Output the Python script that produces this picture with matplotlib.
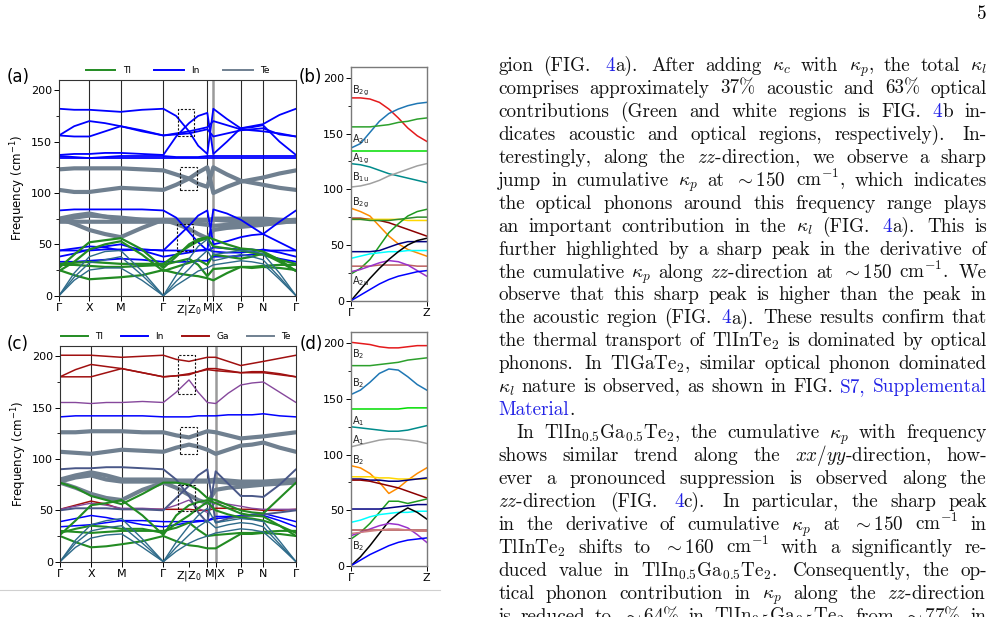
import re
import numpy as np
import matplotlib
matplotlib.use('Agg')
import matplotlib.pyplot as plt
from matplotlib.font_manager import FontProperties
from matplotlib.lines import Line2D
from matplotlib.patches import Rectangle
from matplotlib.ticker import MultipleLocator
from matplotlib.transforms import IdentityTransform

W, H = 995, 617

# ---- k path (panel a and c) ----
PATH_LABELS = ['Γ', 'X', 'M', 'Γ', 'Z|Z$_0$', '', 'M|X', 'P', 'N', 'Γ']
KA = [0, 91, 185, 313, 390, 445, 463, 545, 612, 711]
KC = [0, 93, 185, 310, 387, 442, 467, 542, 610, 708]

# ---- panel (a) TlInTe2 bands, values at Γ .. X .. M .. Γ .. Z .. M | X .. P .. N .. Γ ----
a_in = [
    [182, 181, 181, 180, 179, 181, 182, 175, 160, 146, 138, 182, 172, 163, 165, 167, 176, 182],
    [156, 165, 170, 168, 165, 160, 156, 158, 160, 162, 164, 170, 166, 162, 161, 160, 158, 155],
    [156, 155, 155, 160, 165, 161, 156, 157, 158, 160, 162, 155, 158, 161, 162, 163, 157, 155],
    [137, 138, 138, 139, 139, 138, 137, 155, 168, 175, 178, 138, 150, 163, 164, 166, 150, 137],
    [136, 135, 134, 135, 136, 136, 136, 135, 135, 135, 136, 136, 136, 136, 136, 136, 136, 136],
    [134, 134, 134, 134, 134, 134, 134, 134, 134, 134, 134, 134, 134, 134, 134, 134, 134, 134],
    [83, 84, 84, 84, 84, 84, 83, 76, 62, 52, 44, 84, 80, 74, 67, 60, 72, 83],
    [44, 44, 44, 45, 45, 45, 44, 56, 68, 78, 83, 50, 53, 57, 59, 60, 52, 44],
    [44, 46, 48, 47, 44, 45, 44, 44, 44, 44, 44, 47, 46, 45, 45, 44, 44, 44],
    [38, 41, 45, 48, 50, 44, 38, 40, 42, 44, 45, 43, 42, 42, 43, 45, 42, 38],
    [33, 33, 34, 35, 36, 35, 33, 33, 33, 34, 34, 38, 38, 39, 40, 40, 36, 33],
]
a_te = [
    [123, 124, 124, 124, 124, 123, 122, 118, 114, 109, 106, 125, 118, 112, 110, 108, 105, 103],
    [103, 101, 101, 103, 105, 104, 103, 108, 114, 120, 125, 100, 106, 111, 113, 115, 119, 122],
    [75, 70, 64, 60, 57, 66, 74, 70, 65, 60, 56, 64, 66, 67, 68, 69, 71, 73],
    [75, 78, 80, 77, 74, 74, 74, 74, 74, 74, 74, 74, 73, 72, 72, 72, 73, 74],
    [73, 76, 78, 77, 76, 74, 73, 73, 73, 73, 73, 75, 75, 75, 75, 75, 74, 73],
    [72, 72, 72, 72, 72, 72, 72, 72, 71, 70, 69, 68, 69, 70, 71, 72, 72, 72],
]
a_tl = [
    [25, 20, 16, 17, 18, 20, 25, 22, 20, 19, 17, 15, 22, 28, 27, 28, 27, 25],
    [30, 30, 29, 28, 28, 29, 30, 33, 36, 30, 19, 26, 27, 28, 28, 29, 30, 30],
    [31, 32, 33, 32, 31, 31, 31, 40, 48, 53, 56, 48, 46, 44, 42, 40, 35, 31],
    [27, 40, 52, 54, 56, 45, 27, 38, 50, 55, 57, 55, 50, 46, 45, 43, 35, 24],
    [24, 33, 45, 50, 53, 40, 24, 28, 32, 35, 30, 40, 38, 36, 38, 41, 33, 24],
]
a_mix = [
    [0, 15, 25, 27, 27, 15, 0, 10, 18, 24, 27, 30, 32, 34, 33, 31, 16, 0],
    [0, 18, 32, 35, 38, 20, 0, 14, 26, 36, 44, 34, 37, 40, 38, 35, 18, 0],
    [0, 22, 38, 43, 44, 24, 0, 20, 36, 48, 55, 40, 42, 44, 43, 41, 22, 0],
]

# ---- panel (c) TlIn0.5Ga0.5Te2 bands ----
c_ga = [
    [201, 201, 201, 200, 199, 200, 201, 197, 195, 197, 199, 199, 195, 191, 193, 195, 198, 201],
    [180, 187, 192, 190, 188, 184, 180, 181, 182, 185, 188, 188, 186, 184, 185, 185, 183, 180],
    [180, 180, 180, 184, 188, 184, 180, 181, 183, 185, 187, 186, 185, 184, 184, 184, 182, 180],
    [51, 55, 59, 56, 51, 51, 51, 51, 51, 50, 50, 52, 52, 51, 51, 50, 50, 51],
]
c_purple = [
    [155, 155, 154, 155, 155, 156, 155, 165, 177, 165, 155, 154, 164, 172, 174, 175, 165, 155],
    [51, 54, 57, 55, 52, 52, 51, 55, 60, 52, 48, 58, 56, 54, 52, 51, 51, 51],
]
c_in = [
    [141, 142, 142, 142, 142, 142, 141, 141, 141, 142, 142, 142, 143, 143, 143, 144, 142, 141],
    [39, 42, 45, 43, 40, 40, 39, 39, 39, 40, 40, 42, 43, 45, 46, 47, 43, 39],
    [34, 35, 36, 38, 40, 36, 34, 36, 38, 39, 40, 44, 44, 44, 45, 45, 40, 34],
]
c_navy = [
    [90, 91, 91, 92, 92, 91, 90, 80, 64, 48, 38, 88, 76, 64, 64, 63, 75, 90],
    [50, 52, 52, 52, 51, 51, 50, 62, 74, 84, 90, 38, 42, 44, 45, 46, 48, 50],
]
c_te = [
    [126, 126, 127, 127, 127, 126, 126, 123, 121, 124, 127, 126, 123, 120, 121, 122, 124, 126],
    [107, 106, 105, 107, 109, 108, 107, 111, 114, 112, 109, 105, 109, 113, 114, 116, 111, 107],
    [80, 84, 87, 84, 80, 80, 80, 79, 79, 79, 79, 80, 79, 78, 78, 78, 79, 80],
    [78, 82, 84, 80, 78, 78, 78, 78, 78, 78, 78, 78, 77, 76, 76, 76, 77, 78],
    [77, 72, 66, 62, 60, 70, 77, 72, 65, 60, 57, 70, 72, 73, 74, 75, 76, 77],
]
c_tl = [
    [25, 19, 14, 15, 17, 20, 25, 20, 16, 15, 13, 13, 20, 27, 27, 28, 27, 25],
    [30, 29, 28, 29, 30, 30, 30, 33, 38, 31, 25, 26, 27, 28, 28, 29, 30, 30],
    [28, 32, 35, 34, 32, 32, 28, 37, 45, 52, 58, 50, 46, 43, 42, 40, 35, 28],
    [26, 40, 55, 57, 60, 45, 26, 45, 55, 58, 60, 57, 52, 47, 45, 44, 35, 25],
    [77, 72, 64, 60, 56, 66, 77, 77, 75, 70, 62, 60, 55, 50, 48, 47, 62, 77],
]
c_mix = [
    [0, 14, 23, 26, 27, 14, 0, 10, 18, 22, 25, 28, 30, 32, 31, 29, 15, 0],
    [0, 18, 30, 33, 35, 18, 0, 14, 26, 34, 40, 33, 36, 38, 37, 34, 17, 0],
    [0, 21, 36, 40, 42, 22, 0, 19, 35, 45, 52, 38, 40, 42, 41, 39, 20, 0],
]

# ---- panel (b) Γ-Z, 9 points each ----
b_bands = [
    ('#e41a1c', [182, 182, 181, 178, 172, 164, 155, 148, 143]),
    ('#1f77b4', [137, 141, 151, 161, 168, 172, 175, 177, 178]),
    ('#2ca02c', [156, 156, 156, 157, 158, 160, 161, 163, 164]),
    ('#00dd00', [134, 134, 134, 134, 134, 134, 134, 134, 134]),
    ('#008b8b', [123, 122, 120, 117, 114, 112, 110, 108, 106]),
    ('#a0a0a0', [102, 103, 105, 108, 112, 115, 118, 121, 123]),
    ('#ff8c00', [83, 80, 76, 67, 58, 51, 46, 43, 40]),
    ('#8b0000', [74, 74, 73, 72, 70, 67, 64, 61, 58]),
    ('#ffd700', [73, 73, 73, 73, 73, 73, 72, 72, 72]),
    ('#2e8b2e', [73, 73, 72, 72, 72, 73, 74, 75, 75]),
    ('#1f9a1f', [24, 29, 37, 49, 61, 69, 76, 80, 82]),
    ('#000080', [44, 44, 44, 45, 48, 51, 53, 53, 53]),
    ('#00ffff', [38, 40, 42, 43, 44, 44, 45, 45, 45]),
    ('#bc5f5f', [31, 31, 31, 32, 32, 32, 32, 31, 31]),
    ('#9932cc', [26, 28, 31, 34, 36, 35, 32, 27, 22]),
    ('#000000', [0, 10, 20, 29, 37, 44, 50, 54, 56]),
    ('#0000ff', [0, 5, 10, 15, 19, 22, 24, 26, 27]),
]
b_modes = [r'B$_{\mathrm{2g}}$', r'A$_{\mathrm{2u}}$', r'A$_{\mathrm{1g}}$',
           r'B$_{\mathrm{1u}}$', r'B$_{\mathrm{2g}}$', r'A$_{\mathrm{2u}}$']
b_mode_y = [188, 145, 127, 111, 88, 18]

# ---- panel (d) Γ-Z ----
d_bands = [
    ('#e41a1c', [201, 200, 199, 197, 196, 196, 197, 198, 198]),
    ('#2ca02c', [180, 180, 180, 181, 182, 183, 185, 186, 187]),
    ('#1f77b4', [154, 158, 165, 173, 177, 176, 170, 163, 158]),
    ('#00dd00', [141, 141, 141, 141, 141, 141, 142, 142, 142]),
    ('#008b8b', [125, 124, 123, 122, 121, 121, 122, 124, 126]),
    ('#a0a0a0', [107, 109, 111, 113, 114, 114, 113, 112, 110]),
    ('#ff8c00', [90, 88, 83, 75, 65, 70, 77, 83, 88]),
    ('#ffd700', [80, 80, 80, 79, 79, 78, 78, 78, 78]),
    ('#000080', [78, 78, 77, 77, 76, 76, 77, 78, 79]),
    ('#8b0000', [77, 77, 76, 74, 72, 70, 67, 64, 61]),
    ('#1f9a1f', [24, 30, 38, 48, 58, 58, 56, 58, 60]),
    ('#000080', [51, 51, 51, 51, 52, 53, 54, 55, 55]),
    ('#00ffff', [39, 41, 44, 46, 47, 48, 48, 49, 49]),
    ('#000000', [0, 8, 18, 29, 40, 47, 52, 48, 42]),
    ('#9932cc', [27, 30, 33, 36, 38, 37, 34, 28, 21]),
    ('#b05050', [32, 32, 32, 32, 32, 32, 32, 32, 32]),
    ('#d08080', [29, 30, 31, 32, 33, 33, 32, 31, 31]),
    ('#0000ff', [0, 5, 10, 14, 18, 21, 23, 24, 25]),
]
d_modes = ['B$_2$', 'B$_2$', 'A$_1$', 'A$_1$', 'B$_2$', 'B$_2$']
d_mode_y = [190, 164, 130, 113, 95, 18]

# ---- body text (right column) ----
TEXT_LINES = [
    r"gion (FIG. [4]a).  After adding $\kappa_c$ with $\kappa_p$, the total $\kappa_l$",
    r"comprises approximately 37% acoustic and 63% optical",
    r"contributions (Green and white regions is FIG. [4]b in-",
    r"dicates acoustic and optical regions, respectively).  In-",
    r"terestingly, along the $zz$-direction, we observe a sharp",
    r"jump in cumulative $\kappa_p$ at ${\sim}150$ cm$^{-1}$, which indicates",
    r"the optical phonons around this frequency range plays",
    r"an important contribution in the $\kappa_l$ (FIG. [4]a).  This is",
    r"further highlighted by a sharp peak in the derivative of",
    r"the cumulative $\kappa_p$ along $zz$-direction at ${\sim}150$ cm$^{-1}$. We",
    r"observe that this sharp peak is higher than the peak in",
    r"the acoustic region (FIG. [4]a).  These results confirm that",
    r"the thermal transport of TlInTe$_2$ is dominated by optical",
    r"phonons. In TlGaTe$_2$, similar optical phonon dominated",
    r"$\kappa_l$ nature is observed, as shown in FIG. [S7,] [Supplemental]",
    r"[Material].",
    r"In TlIn$_{0.5}$Ga$_{0.5}$Te$_2$, the cumulative $\kappa_p$ with frequency",
    r"shows similar trend along the $xx/yy$-direction, how-",
    r"ever a pronounced suppression is observed along the",
    r"$zz$-direction (FIG. [4]c).  In particular, the sharp peak",
    r"in the derivative of cumulative $\kappa_p$ at ${\sim}150$ cm$^{-1}$ in",
    r"TlInTe$_2$ shifts to ${\sim}160$ cm$^{-1}$ with a significantly re-",
    r"duced value in TlIn$_{0.5}$Ga$_{0.5}$Te$_2$.  Consequently, the op-",
    r"tical phonon contribution in $\kappa_p$ along the $zz$-direction",
    r"is reduced to ${\sim}64$% in TlIn$_{0.5}$Ga$_{0.5}$Te$_2$ from ${\sim}77$% in",
]
PARA_END = {15}
PARA_START = {16}

TL, IN, TE, GA = '#228B22', '#0000FF', '#708090', '#A01010'
MIX, PURPLE, NAVY = '#2E6B8A', '#86489C', '#4A5888'
LINK, INK = '#2222e6', '#111111'


def box(l, t, r, b):
    return [l / W, 1 - b / H, (r - l) / W, (b - t) / H]


def sample_k(k):
    m = lambda a, b: (a + b) / 2
    return [k[0], m(k[0], k[1]), k[1], m(k[1], k[2]), k[2], m(k[2], k[3]), k[3],
            m(k[3], k[4]), k[4], m(k[4], k[5]), k[5], k[6], m(k[6], k[7]), k[7],
            m(k[7], k[8]), k[8], m(k[8], k[9]), k[9]]


def style_freq_axis(ax):
    ax.set_ylim(0, 210)
    ax.set_yticks([0, 50, 100, 150, 200])
    ax.yaxis.set_minor_locator(MultipleLocator(25))
    ax.tick_params(axis='both', which='major', direction='out', length=3.5, width=0.7,
                   labelsize=8, pad=1.5)
    ax.tick_params(axis='y', which='minor', direction='out', length=2.2, width=0.6)


def band_panel(ax, kt, groups, boxes):
    ks = sample_k(kt)
    for bands, col, lw in groups:
        for b in bands:
            ax.plot(ks, b, color=col, lw=lw, solid_capstyle='round', zorder=2)
    for i in (1, 2, 3, 5, 7, 8):
        ax.axvline(kt[i], color='#2b2b2b', lw=0.8, zorder=1)
    ax.axvline(kt[6], color='#9a9a9a', lw=1.8, zorder=1)
    for x0, y0, w, h in boxes:
        ax.add_patch(Rectangle((x0, y0), w, h, fill=False, ls=(0, (2, 1.5)),
                               lw=0.8, ec='#111111', zorder=5))
    ax.set_xlim(kt[0], kt[-1])
    ax.set_xticks(kt)
    ax.set_xticklabels(PATH_LABELS)
    style_freq_axis(ax)
    ax.set_ylabel('Frequency (cm$^{-1}$)', fontsize=8.5, labelpad=2)
    for s in ax.spines.values():
        s.set_color('#333333')
        s.set_linewidth(0.8)


def gz_panel(ax, bands, modes, mode_y):
    x = np.linspace(0, 1, len(bands[0][1]))
    for col, vals in bands:
        ax.plot(x, vals, color=col, lw=1.1)
    for lab, y in zip(modes, mode_y):
        ax.text(0.015, y, lab, fontsize=7, ha='left', va='center', color='#222222')
    ax.set_xlim(0, 1)
    ax.set_xticks([0, 1])
    ax.set_xticklabels(['Γ', 'Z'])
    style_freq_axis(ax)
    for s in ax.spines.values():
        s.set_color('#7a7a7a')
        s.set_linewidth(1.0)


fig = plt.figure(figsize=(W / 100, H / 100), dpi=100)
fig.patch.set_facecolor('white')

# panel (a)
ax_a = fig.add_axes(box(59, 80, 296, 295.7))
band_panel(ax_a, KA,
           [(a_te, TE, 3.0), (a_in, IN, 1.3), (a_tl, TL, 1.6), (a_mix, MIX, 1.0)],
           [(356, 155, 50, 27), (363, 103, 50, 22), (353, 44, 50, 26)])
ax_a.legend([Line2D([], [], color=c, lw=1.4) for c in (TL, IN, TE)], ['Tl', 'In', 'Te'],
            loc='lower center', bbox_to_anchor=(0.5, 1.0), ncol=3, frameon=False,
            fontsize=6.5, handlelength=3.3, columnspacing=2.6, handletextpad=0.8,
            borderaxespad=0.15)

# panel (b)
ax_b = fig.add_axes(box(351, 66.7, 426.7, 300.7))
gz_panel(ax_b, b_bands, b_modes, b_mode_y)

# panel (c)
ax_c = fig.add_axes(box(60, 346, 296, 561.7))
band_panel(ax_c, KC,
           [(c_te, TE, 3.0), (c_ga, GA, 1.1), (c_purple, PURPLE, 1.0), (c_in, IN, 1.1),
            (c_navy, NAVY, 1.4), (c_tl, TL, 1.5), (c_mix, MIX, 1.0)],
           [(353, 163, 53, 38), (360, 105, 52, 26), (355, 49, 50, 26)])
ax_c.legend([Line2D([], [], color=c, lw=1.4) for c in (TL, IN, GA, TE)],
            ['Tl', 'In', 'Ga', 'Te'],
            loc='lower center', bbox_to_anchor=(0.49, 1.0), ncol=4, frameon=False,
            fontsize=6.5, handlelength=3.0, columnspacing=2.0, handletextpad=0.8,
            borderaxespad=0.15)

# panel (d)
ax_d = fig.add_axes(box(351, 332.3, 426.7, 565.7))
gz_panel(ax_d, d_bands, d_modes, d_mode_y)

for lab, (px, py) in zip(['(a)', '(b)', '(c)', '(d)'],
                         [(7, 77), (299, 77), (7, 344), (300, 344)]):
    fig.text(px / W, 1 - py / H, lab, fontsize=12, ha='left', va='center')

# light frame line under the figure image
fig.add_artist(Line2D([0, 440 / W], [1 - 590 / H, 1 - 590 / H], color='#d0d0d0', lw=0.8))

# ---- justified body text ----
BODY = FontProperties(family='cmr10', size=13.8, math_fontfamily='cm')
renderer = fig.canvas.get_renderer()
ident = IdentityTransform()


def segments(word):
    out = []
    for p in re.split(r'(\[[^\]]*\])', word):
        if not p:
            continue
        if p.startswith('['):
            out.append((p[1:-1], LINK))
        else:
            out.append((p, INK))
    return out


def put_line(line, y, x0, x1, justify):
    words = []
    for w in line.split():
        arts = []
        for s, c in segments(w):
            t = fig.text(0, 0, s, color=c, fontproperties=BODY, transform=ident,
                         ha='left', va='baseline')
            arts.append((t, t.get_window_extent(renderer=renderer).width))
        words.append((w, arts))
    total = sum(wd for _, arts in words for _, wd in arts)
    weights = []
    for w, _ in words[:-1]:
        plain = re.sub(r'[\[\]]', '', w)
        weights.append(1.4 if (plain.endswith('.') and plain != 'FIG.') else 1.0)
    space = BODY.get_size_in_points() * 100 / 72 * 0.333
    if justify and weights:
        unit = max((x1 - x0 - total) / sum(weights), space * 0.75)
    else:
        unit = space
    x = x0
    for i, (w, arts) in enumerate(words):
        for t, wd in arts:
            t.set_position((x, H - y))
            x += wd
        if i < len(weights):
            x += unit * weights[i]


for i, line in enumerate(TEXT_LINES):
    y = 70.7 + i * 22.98
    x0 = 516.7 if i in PARA_START else 498.3
    put_line(line, y, x0, 986.7, i not in PARA_END)

fig.text(982 / W, 1 - 14 / H, '5', fontproperties=BODY, ha='center', va='center')

fig.savefig('out.png', dpi=100)
